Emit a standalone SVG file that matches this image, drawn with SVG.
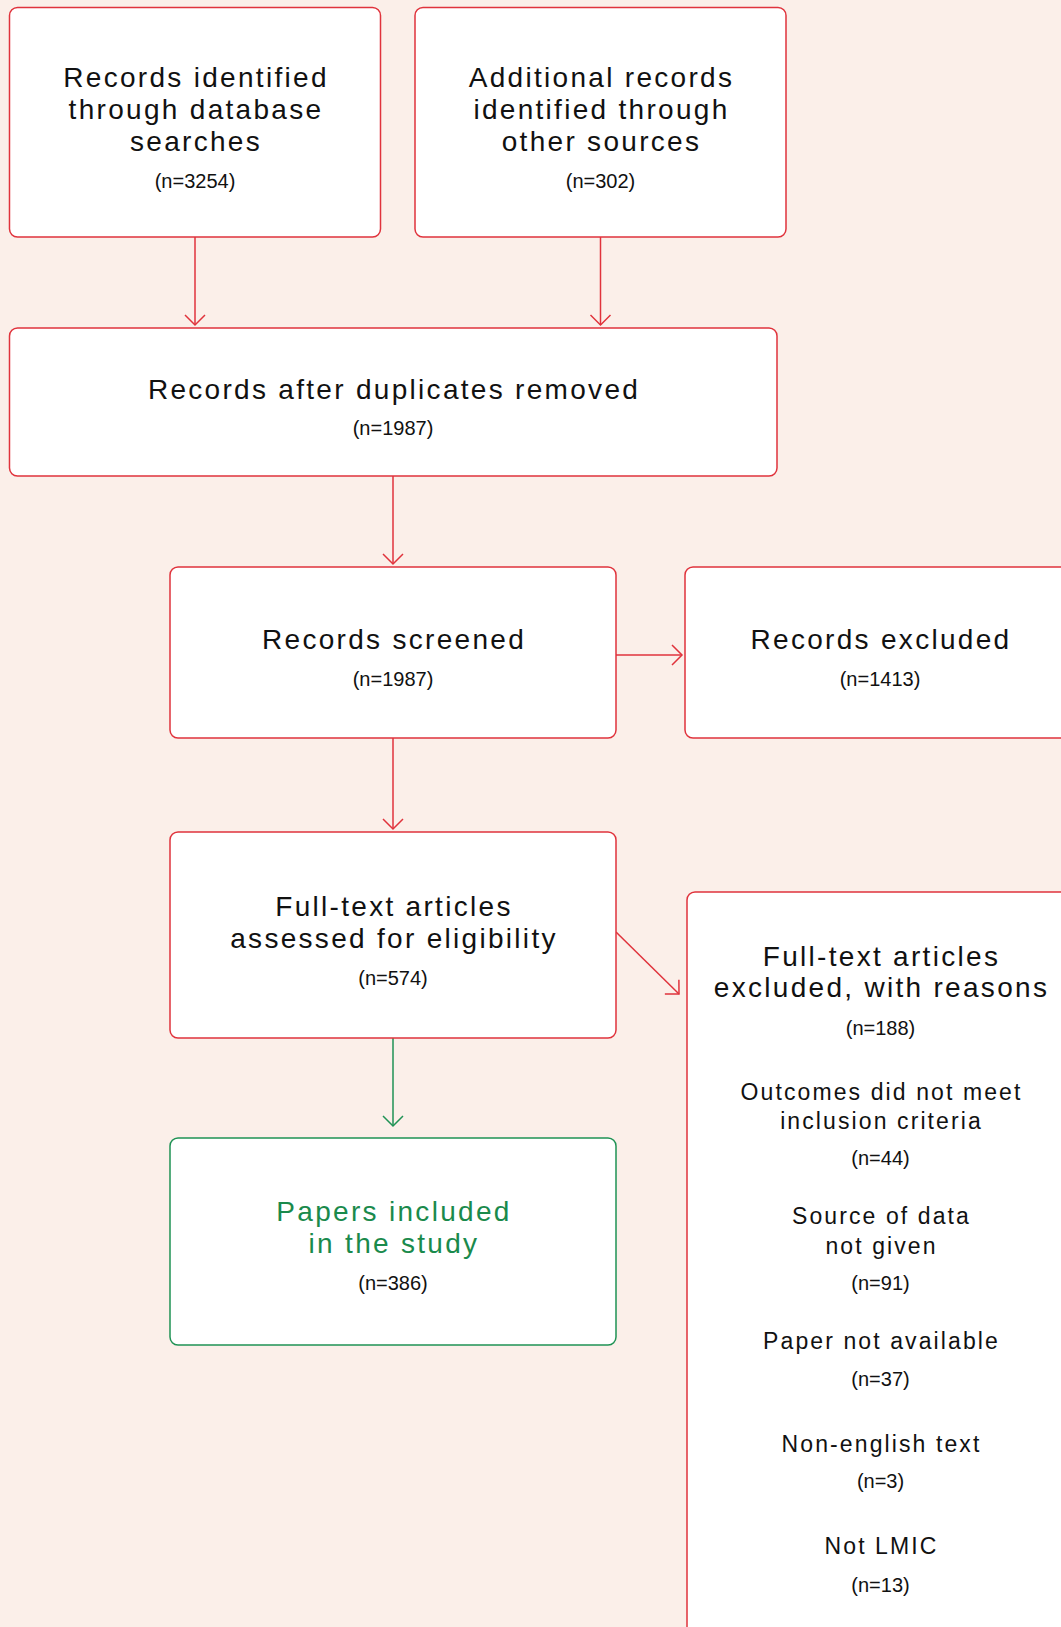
<svg xmlns="http://www.w3.org/2000/svg" width="1061" height="1627" viewBox="0 0 1061 1627">
<style>
.box{fill:#ffffff;stroke:#e0333c;stroke-width:1.5}
.gbox{fill:#ffffff;stroke:#1f9254;stroke-width:1.5}
.t{font-family:"Liberation Sans",Arial,sans-serif;font-size:28px;letter-spacing:2.3px;fill:#111111;text-anchor:middle}
.tg{fill:#1a8a4c}
.r{font-family:"Liberation Sans",Arial,sans-serif;font-size:23px;letter-spacing:2.1px;fill:#111111;text-anchor:middle}
.n{font-family:"Liberation Sans",Arial,sans-serif;font-size:20px;fill:#111111;text-anchor:middle}
.c{fill:none;stroke:#e0333c;stroke-width:1.5}
.cg{fill:none;stroke:#1f9254;stroke-width:1.5}
</style>
<defs>
<marker id="ah" viewBox="-12 -12 14 24" refX="0" refY="0" markerWidth="14" markerHeight="24" markerUnits="userSpaceOnUse" orient="auto">
<path d="M-10,-10 L0,0 L-10,10" fill="none" stroke="#e0333c" stroke-width="1.5"/>
</marker>
<marker id="ahg" viewBox="-12 -12 14 24" refX="0" refY="0" markerWidth="14" markerHeight="24" markerUnits="userSpaceOnUse" orient="auto">
<path d="M-10,-10 L0,0 L-10,10" fill="none" stroke="#1f9254" stroke-width="1.5"/>
</marker>
</defs>
<rect x="0" y="0" width="1061" height="1627" fill="#fbefe9"/>

<g id="connectors">
<line class="c" x1="195" y1="237" x2="195" y2="325" marker-end="url(#ah)"/>
<line class="c" x1="600.5" y1="237" x2="600.5" y2="325" marker-end="url(#ah)"/>
<line class="c" x1="393" y1="476" x2="393" y2="564" marker-end="url(#ah)"/>
<line class="c" x1="393" y1="737" x2="393" y2="829" marker-end="url(#ah)"/>
<line class="c" x1="616" y1="655" x2="682" y2="655" marker-end="url(#ah)"/>
<line class="c" x1="616" y1="932" x2="679" y2="994" marker-end="url(#ah)"/>
<line class="cg" x1="393" y1="1038" x2="393" y2="1126" marker-end="url(#ahg)"/>
</g>

<g id="n1">
<rect class="box" x="9.5" y="7.5" width="371" height="229.5" rx="8"/>
<text class="t" x="196" y="87">Records identified</text>
<text class="t" x="196" y="118.5">through database</text>
<text class="t" x="196" y="150.5">searches</text>
<text class="n" x="195" y="188">(n=3254)</text>
</g>

<g id="n2">
<rect class="box" x="415" y="7.5" width="371" height="229.5" rx="8"/>
<text class="t" x="601.5" y="87">Additional records</text>
<text class="t" x="601.5" y="118.5">identified through</text>
<text class="t" x="601.5" y="150.5">other sources</text>
<text class="n" x="600.5" y="188">(n=302)</text>
</g>

<g id="n3">
<rect class="box" x="9.5" y="328" width="767.5" height="148" rx="8"/>
<text class="t" x="394" y="398.5">Records after duplicates removed</text>
<text class="n" x="393" y="435">(n=1987)</text>
</g>

<g id="n4">
<rect class="box" x="170" y="567" width="446" height="171" rx="8"/>
<text class="t" x="394" y="649">Records screened</text>
<text class="n" x="393" y="686">(n=1987)</text>
</g>

<g id="n5">
<rect class="box" x="685" y="567" width="420" height="171" rx="8"/>
<text class="t" x="881" y="649">Records excluded</text>
<text class="n" x="880" y="686">(n=1413)</text>
</g>

<g id="n6">
<rect class="box" x="170" y="832" width="446" height="206" rx="8"/>
<text class="t" x="394" y="915.5">Full-text articles</text>
<text class="t" x="394" y="948">assessed for eligibility</text>
<text class="n" x="393" y="984.5">(n=574)</text>
</g>

<g id="n7">
<rect class="box" x="687" y="892" width="420" height="760" rx="8"/>
<text class="t" x="881.5" y="965.5">Full-text articles</text>
<text class="t" x="881.5" y="996.5">excluded, with reasons</text>
<text class="n" x="880.5" y="1035">(n=188)</text>
<text class="r" x="881.5" y="1099.5">Outcomes did not meet</text>
<text class="r" x="881.5" y="1129">inclusion criteria</text>
<text class="n" x="880.5" y="1165">(n=44)</text>
<text class="r" x="881.5" y="1224">Source of data</text>
<text class="r" x="881.5" y="1253.5">not given</text>
<text class="n" x="880.5" y="1290">(n=91)</text>
<text class="r" x="881.5" y="1348.5">Paper not available</text>
<text class="n" x="880.5" y="1386">(n=37)</text>
<text class="r" x="881.5" y="1451.5">Non-english text</text>
<text class="n" x="880.5" y="1488">(n=3)</text>
<text class="r" x="881.5" y="1554">Not LMIC</text>
<text class="n" x="880.5" y="1591.5">(n=13)</text>
</g>

<g id="n8">
<rect class="gbox" x="170" y="1138" width="446" height="207" rx="8"/>
<text class="t tg" x="394" y="1221">Papers included</text>
<text class="t tg" x="394" y="1253">in the study</text>
<text class="n" x="393" y="1290">(n=386)</text>
</g>
</svg>
